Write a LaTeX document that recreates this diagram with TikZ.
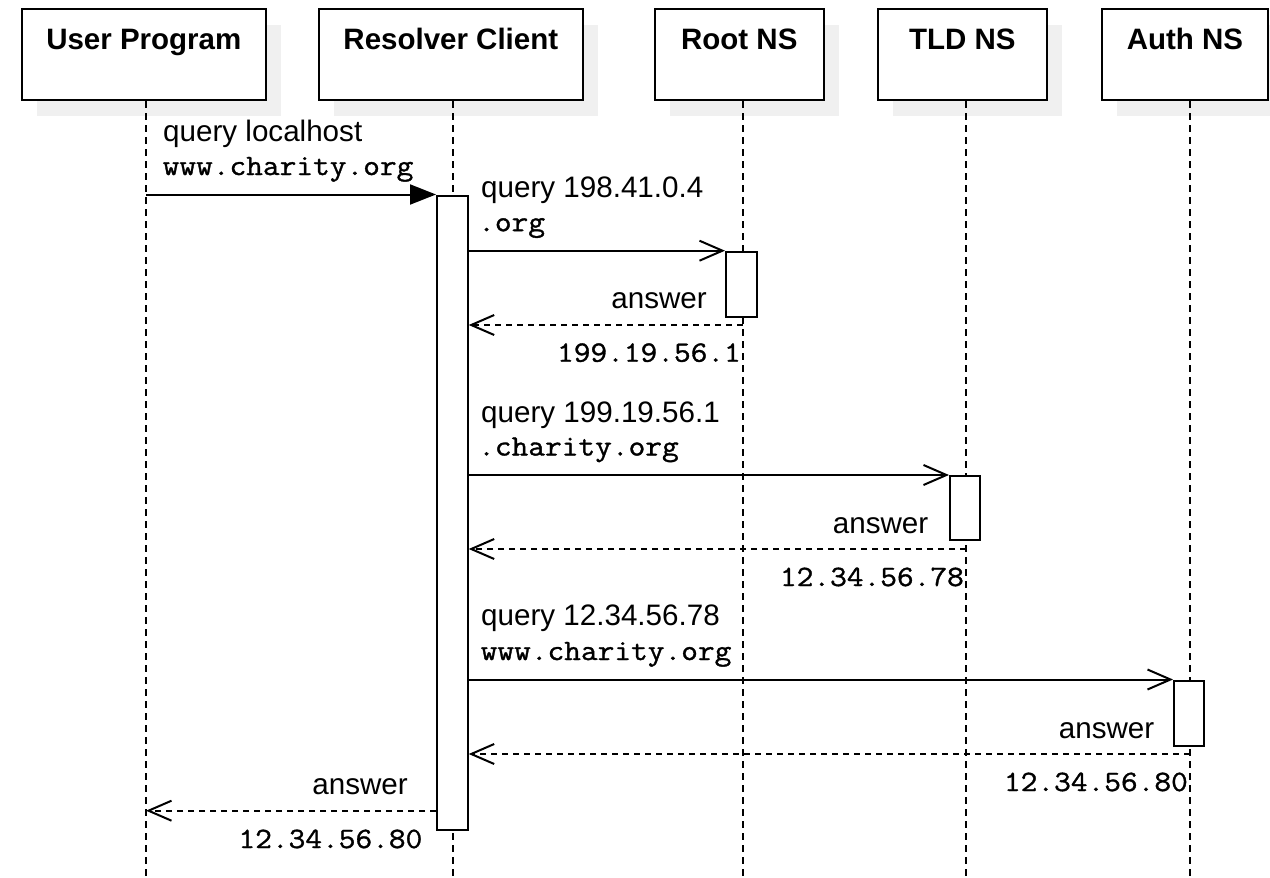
\documentclass[tikz,border=0pt]{standalone}
\usepackage{fontspec}
\setmainfont{Liberation Sans}
\newfontfamily\msgfont{Liberation Sans}
\newfontfamily\codefont{Latin Modern Mono}[FakeBold=1.2,FakeStretch=1.10]
\usetikzlibrary{arrows.meta,shadows}
\tikzset{
  hdr/.style={draw, line width=2pt, fill=white, inner xsep=0pt, inner ysep=0pt,
    text height=40pt, text depth=51pt, anchor=north,
    font=\fontsize{29.5}{30}\selectfont\bfseries,
    drop shadow={shadow xshift=15pt, shadow yshift=-16pt, fill=black!6, opacity=1}},
  lifeln/.style={line width=2pt, dash pattern=on 7pt off 5pt},
  actbox/.style={draw, line width=2pt, fill=white, inner sep=0pt, anchor=north west, minimum width=30.7pt},
  msgln/.style={line width=2pt, -{Straight Barb[length=23pt,width=20pt]}},
  firstln/.style={line width=2pt, -{Triangle[length=26pt,width=20pt]}},
  retln/.style={line width=2pt, dash pattern=on 6pt off 5pt, -{Straight Barb[length=23pt,width=20pt]}},
  sanslbl/.style={inner sep=0pt, font=\msgfont\fontsize{29.6}{32}\selectfont},
  monolbl/.style={inner sep=0pt, font=\codefont\fontsize{29.5}{30}\selectfont},
}
\begin{document}
\begin{tikzpicture}[x=1pt,y=-1pt]
\useasboundingbox[fill=white] (0,0) rectangle (1270,878);
% headers
\node[hdr, minimum width=244.3pt] (up) at (143.85,8.3) {User Program};
\node[hdr, minimum width=264pt] (rc) at (450.85,8.3) {Resolver Client};
\node[hdr, minimum width=168.6pt] (root) at (739.3,8.3) {Root NS};
\node[hdr, minimum width=168.6pt] (tld) at (962.3,8.3) {TLD NS};
\node[hdr, minimum width=166pt] (auth) at (1185,8.3) {Auth NS};
% lifeline ends
\coordinate (upE) at (146,878);
\coordinate (rcE) at (453,878);
\coordinate (rootE) at (742.5,878);
\coordinate (tldE) at (966,878);
\coordinate (authE) at (1189.8,878);
\draw[lifeln] (up.south -| upE) -- (upE);
\draw[lifeln] (rc.south -| rcE) -- (rcE);
\draw[lifeln] (root.south -| rootE) -- (rootE);
\draw[lifeln] (tld.south -| tldE) -- (tldE);
\draw[lifeln] (auth.south -| authE) -- (authE);
% activations
\node[actbox, minimum height=634.8pt] (ra) at (436,194.5) {};
\node[actbox, minimum height=65.3pt] (rootA) at (725,250.7) {};
\node[actbox, minimum height=64pt, minimum width=29.6pt] (tldA) at (949,475) {};
\node[actbox, minimum height=65.5pt, minimum width=30pt] (authA) at (1173,679.5) {};
% return points
\coordinate (r1) at (742.5,325);
\coordinate (r2) at (966,549);
\coordinate (r3) at (1189.8,754);
\coordinate (r4) at (146,810.7);
% messages
\draw[firstln] (ra.north west -| upE) -- (ra.north west);
\draw[msgln] (ra.east |- rootA.north west) -- (rootA.north west);
\draw[retln] (r1) -- (ra.east |- r1);
\draw[msgln] (ra.east |- tldA.north west) -- (tldA.north west);
\draw[retln] (r2) -- (ra.east |- r2);
\draw[msgln] (ra.east |- authA.north west) -- (authA.north west);
\draw[retln] (r3) -- (ra.east |- r3);
\draw[retln] (ra.west |- r4) -- (r4);
% labels
\node[sanslbl, anchor=base west] (l1a) at (163,141.7) {query localhost};
\node[monolbl, anchor=base west] (l1b) at (162.5,175) {www.charity.org};
\node[sanslbl, anchor=base west] (l2a) at (481,197.7) {query 198.41.0.4};
\node[monolbl, anchor=base west] (l2b) at (478,231.2) {.org};
\node[sanslbl, anchor=base east] (l3a) at (707,308.7) {answer};
\node[monolbl, anchor=base east] (l3b) at (741,361.7) {199.19.56.1};
\node[sanslbl, anchor=base west] (l4a) at (481,422) {query 199.19.56.1};
\node[monolbl, anchor=base west] (l4b) at (478,455.5) {.charity.org};
\node[sanslbl, anchor=base east] (l5a) at (928.5,533) {answer};
\node[monolbl, anchor=base east] (l5b) at (964,586) {12.34.56.78};
\node[sanslbl, anchor=base west] (l6a) at (481,625) {query 12.34.56.78};
\node[monolbl, anchor=base west] (l6b) at (480.5,660) {www.charity.org};
\node[sanslbl, anchor=base east] (l7a) at (1154.5,738) {answer};
\node[monolbl, anchor=base east] (l7b) at (1188,791) {12.34.56.80};
\node[sanslbl, anchor=base east] (l8a) at (408,794.5) {answer};
\node[monolbl, anchor=base east] (l8b) at (422.5,848) {12.34.56.80};
\end{tikzpicture}
\end{document}
